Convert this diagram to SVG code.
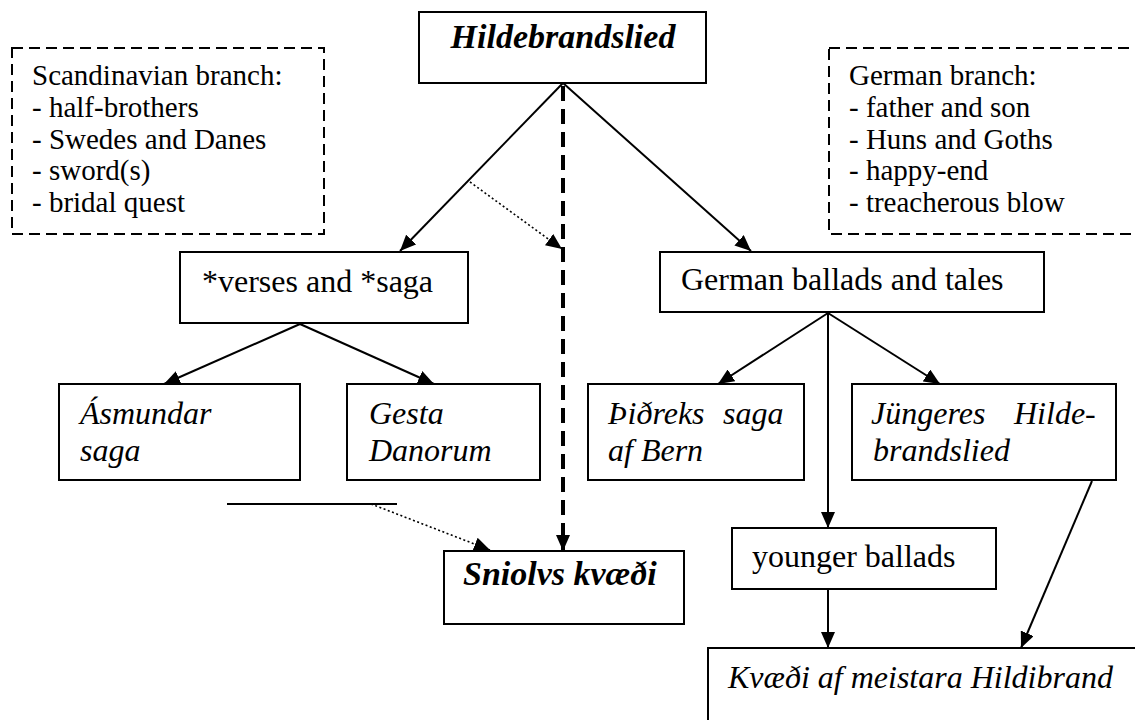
<svg xmlns="http://www.w3.org/2000/svg" width="1135" height="720" viewBox="0 0 1135 720">
<defs>
<style>
text{font-family:"Liberation Serif","Times New Roman",serif;fill:#000}
.n{font-size:32px}
.i{font-size:32px;font-style:italic}
.bi{font-size:34px;font-style:italic;font-weight:bold}
.note{font-size:29px}
.box{fill:#fff;stroke:#000;stroke-width:2}
.dbox{fill:none;stroke:#000;stroke-width:2;stroke-dasharray:11,6}
.c{fill:none;stroke:#000;stroke-width:2}
.dot{fill:none;stroke:#000;stroke-width:1.6;stroke-dasharray:2,2.5}
.dash{fill:none;stroke:#000;stroke-width:4;stroke-dasharray:15,8}
</style>
<marker id="ah" markerUnits="userSpaceOnUse" markerWidth="16" markerHeight="14" refX="16" refY="7" orient="auto">
<path d="M0,0 L16,7 L0,14 z" fill="#000"/>
</marker>
</defs>
<rect width="1135" height="720" fill="#fff"/>

<g id="connectors">
<line class="c" x1="563" y1="83" x2="400" y2="251" marker-end="url(#ah)"/>
<line class="c" x1="563" y1="83" x2="751" y2="251" marker-end="url(#ah)"/>
<line class="dash" x1="563" y1="86" x2="563" y2="551" marker-end="url(#ah)"/>
<line class="dot" x1="470" y1="182" x2="562" y2="249" marker-end="url(#ah)"/>
<line class="c" x1="300" y1="324" x2="164" y2="384" marker-end="url(#ah)"/>
<line class="c" x1="300" y1="324" x2="434" y2="384" marker-end="url(#ah)"/>
<line class="c" x1="828" y1="313" x2="718" y2="384" marker-end="url(#ah)"/>
<line class="c" x1="828" y1="313" x2="940" y2="384" marker-end="url(#ah)"/>
<line class="c" x1="828" y1="313" x2="828" y2="528" marker-end="url(#ah)"/>
<line class="c" x1="828" y1="589" x2="828" y2="648" marker-end="url(#ah)"/>
<line class="c" x1="1092" y1="481" x2="1021" y2="648" marker-end="url(#ah)"/>
<line class="c" x1="227" y1="504" x2="397" y2="504"/>
<line class="dot" x1="371" y1="504" x2="490" y2="550" marker-end="url(#ah)"/>
</g>

<g id="scandinavian-branch">
<rect class="dbox" x="12" y="48" width="312" height="186"/>
<text class="note" x="32" y="85">Scandinavian branch:</text>
<text class="note" x="32" y="117">- half-brothers</text>
<text class="note" x="32" y="149">- Swedes and Danes</text>
<text class="note" x="32" y="180">- sword(s)</text>
<text class="note" x="32" y="212">- bridal quest</text>
</g>

<g id="german-branch">
<rect class="dbox" x="829" y="48" width="330" height="186"/>
<text class="note" x="849" y="85">German branch:</text>
<text class="note" x="849" y="117">- father and son</text>
<text class="note" x="849" y="149">- Huns and Goths</text>
<text class="note" x="849" y="180">- happy-end</text>
<text class="note" x="849" y="212">- treacherous blow</text>
</g>

<g id="hildebrandslied">
<rect class="box" x="419" y="12" width="287" height="71"/>
<text class="bi" x="563" y="48" text-anchor="middle">Hildebrandslied</text>
</g>

<g id="verses-saga">
<rect class="box" x="180" y="252" width="288" height="71"/>
<text class="n" x="202" y="292">*verses and *saga</text>
</g>

<g id="german-ballads">
<rect class="box" x="660" y="252" width="384" height="60"/>
<text class="n" x="681" y="290">German ballads and tales</text>
</g>

<g id="asmundar">
<rect class="box" x="59" y="384" width="241" height="96"/>
<text class="i" x="80" y="424">Ásmundar</text>
<text class="i" x="80" y="461">saga</text>
</g>

<g id="gesta">
<rect class="box" x="347" y="384" width="193" height="96"/>
<text class="i" x="369" y="424">Gesta</text>
<text class="i" x="369" y="461">Danorum</text>
</g>

<g id="thidreks">
<rect class="box" x="588" y="384" width="216" height="96"/>
<text class="i" y="424"><tspan x="608">Þiðreks</tspan><tspan x="723">saga</tspan></text>
<text class="i" x="608" y="461">af Bern</text>
</g>

<g id="jungeres">
<rect class="box" x="852" y="384" width="264" height="96"/>
<text class="i" y="424"><tspan x="871">Jüngeres</tspan><tspan x="1014">Hilde-</tspan></text>
<text class="i" x="873" y="461">brandslied</text>
</g>

<g id="younger-ballads">
<rect class="box" x="732" y="528" width="264" height="61"/>
<text class="n" x="752" y="567">younger ballads</text>
</g>

<g id="sniolvs">
<rect class="box" x="444" y="551" width="240" height="73"/>
<text class="bi" x="463" y="585">Sniolvs kvæði</text>
</g>

<g id="kvaedi">
<rect class="box" x="708" y="648" width="450" height="90"/>
<text class="i" x="728" y="688">Kvæði af meistara Hildibrand</text>
</g>
</svg>
